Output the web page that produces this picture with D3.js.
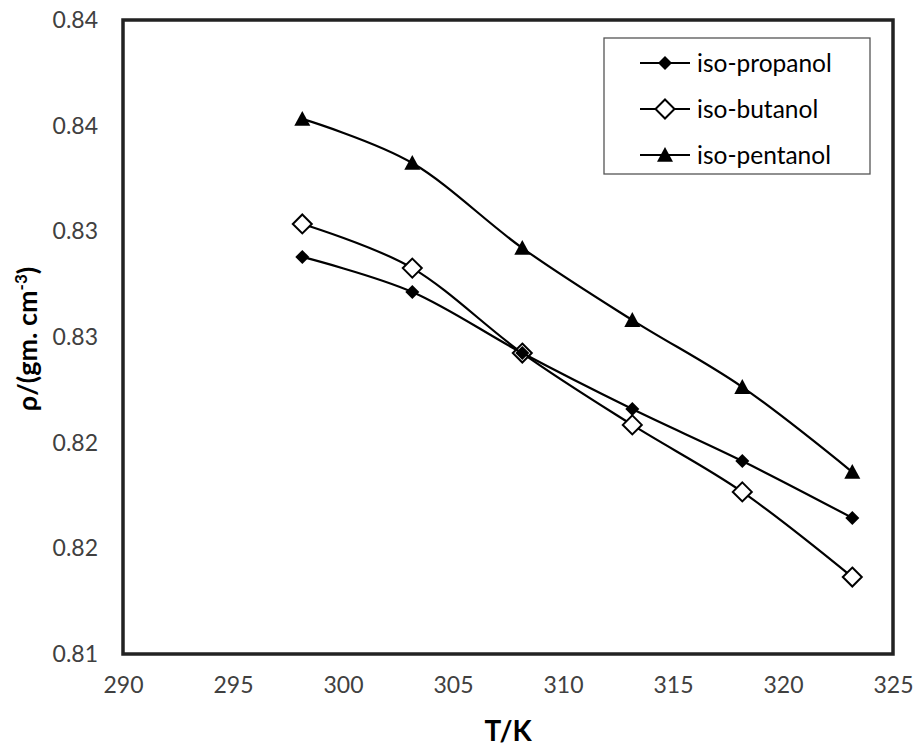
<!DOCTYPE html>
<html><head><meta charset="utf-8">
<script src="https://cdn.jsdelivr.net/npm/d3@7"></script>
<style>body{margin:0;background:#fff;} svg{display:block;}</style>
</head><body>
<script>
const temps = [298.15, 303.15, 308.15, 313.15, 318.15, 323.15];
const isoPropanol = [0.82879, 0.82713, 0.82424, 0.82159, 0.81913, 0.81644];
const isoButanol  = [0.83035, 0.82826, 0.82424, 0.82084, 0.81767, 0.81364];
const isoPentanol = [0.83532, 0.83323, 0.82921, 0.82580, 0.82263, 0.81861];
const seriesNames = ["iso-propanol", "iso-butanol", "iso-pentanol"];
const xTicks = [290, 295, 300, 305, 310, 315, 320, 325];
const yTicks = [0.810, 0.815, 0.820, 0.825, 0.830, 0.835, 0.840];
const yTickLabels = ["0.81", "0.82", "0.82", "0.83", "0.83", "0.84", "0.84"];

const W = 916, H = 746;
const m = {left: 123, right: 893, top: 20, bottom: 654};
const svg = d3.select("body").append("svg").attr("width", W).attr("height", H);
const x = d3.scaleLinear().domain([290, 325]).range([m.left, m.right]);
const y = d3.scaleLinear().domain([0.81, 0.84]).range([m.bottom, m.top]);
const font = "Lato, 'Open Sans', sans-serif";

// y tick labels
const yAxis = d3.axisLeft(y).tickValues(yTicks).tickSize(0).tickPadding(25)
  .tickFormat((d, i) => yTickLabels[i]);
const gy = svg.append("g").attr("transform", `translate(${m.left},0)`).call(yAxis);
gy.select(".domain").remove();
gy.selectAll("text").attr("font-family", font).attr("font-size", 23).attr("fill", "#404040");

const xAxis = d3.axisBottom(x).tickValues(xTicks).tickSize(0).tickPadding(23).tickFormat(d3.format("d"));
const gx = svg.append("g").attr("transform", `translate(0,${m.bottom})`).call(xAxis);
gx.select(".domain").remove();
gx.selectAll("text").attr("font-family", font).attr("font-size", 23).attr("fill", "#404040");

// plot border
svg.append("rect").attr("x", m.left).attr("y", m.top)
  .attr("width", m.right - m.left).attr("height", m.bottom - m.top)
  .attr("fill", "none").attr("stroke", "#222").attr("stroke-width", 3.5);

const data = [
  {name: seriesNames[0], values: isoPropanol, sym: "diamond"},
  {name: seriesNames[1], values: isoButanol, sym: "odiamond"},
  {name: seriesNames[2], values: isoPentanol, sym: "triangle"}
];

const line = d3.line().x((d, i) => x(temps[i])).y(d => y(d)).curve(d3.curveCardinal.tension(0));

function drawMarker(g, sym, cx, cy) {
  if (sym === "diamond") {
    const s = 7;
    g.append("path").attr("d", `M${cx},${cy-s}L${cx+s},${cy}L${cx},${cy+s}L${cx-s},${cy}Z`).attr("fill", "#000");
  } else if (sym === "odiamond") {
    const s = 9.5;
    g.append("path").attr("d", `M${cx},${cy-s}L${cx+s},${cy}L${cx},${cy+s}L${cx-s},${cy}Z`)
      .attr("fill", "#fff").attr("stroke", "#000").attr("stroke-width", 2);
  } else {
    const s = 8;
    g.append("path").attr("d", `M${cx},${cy-s}L${cx+s},${cy+s*0.85}L${cx-s},${cy+s*0.85}Z`).attr("fill", "#000");
  }
}

// draw open-diamond series first so filled markers sit on top where they coincide
[data[1], data[0], data[2]].forEach(s => {
  const g = svg.append("g");
  g.append("path").attr("d", line(s.values)).attr("fill", "none").attr("stroke", "#000").attr("stroke-width", 2.2);
  s.values.forEach((v, i) => drawMarker(g, s.sym, x(temps[i]), y(v)));
});

// legend
const lg = svg.append("g");
lg.append("rect").attr("x", 604).attr("y", 38).attr("width", 266).attr("height", 136)
  .attr("fill", "#fff").attr("stroke", "#555").attr("stroke-width", 1.3);
data.forEach((s, i) => {
  const cy = 63 + i * 46;
  lg.append("line").attr("x1", 640).attr("x2", 690).attr("y1", cy).attr("y2", cy).attr("stroke", "#000").attr("stroke-width", 2.2);
  drawMarker(lg, s.sym, 665, cy);
  lg.append("text").attr("x", 697).attr("y", cy).attr("dy", "0.35em")
    .attr("font-family", font).attr("font-size", 24.5).attr("fill", "#000").text(s.name);
});

// axis titles
svg.append("text").attr("x", 508).attr("y", 741)
  .attr("text-anchor", "middle").attr("font-family", font).attr("font-weight", "bold")
  .attr("font-size", 28).attr("fill", "#000").text("T/K");

const yt = svg.append("text").attr("transform", `translate(37,339) rotate(-90)`)
  .attr("text-anchor", "middle").attr("font-family", font).attr("font-weight", "bold")
  .attr("font-size", 27).attr("fill", "#000");
yt.append("tspan").text("ρ/(gm. cm");
yt.append("tspan").attr("baseline-shift", "super").attr("font-size", 17).text("-3");
yt.append("tspan").text(")");
</script>
</body></html>
